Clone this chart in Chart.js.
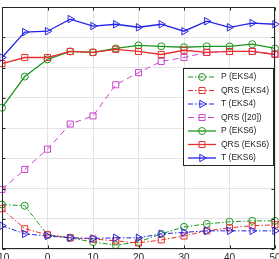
<!DOCTYPE html>
<html><head><meta charset="utf-8">
<script src="https://cdn.jsdelivr.net/npm/chart.js@4"></script>
<style>
html,body{margin:0;padding:0;overflow:hidden;width:279px;height:259px;background:#fff}
#wrap{position:absolute;left:-20px;top:0;width:310px;height:277px}
</style></head><body>
<div id="wrap"><canvas id="c"></canvas></div>
<script>
const xValues = [-10,-5,0,5,10,15,20,25,30,35,40,45,50];
const xTicks = [-10,0,10,20,30,40,50];
const seriesNames = ['P (EKS4)','QRS (EKS4)','T (EKS4)','QRS ([20])','P (EKS6)','QRS (EKS6)','T (EKS6)'];
const pEKS4   = [1.47,1.43,0.47,0.37,0.23,0.13,0.23,0.50,0.73,0.83,0.90,0.93,0.93];
const qrsEKS4 = [1.33,0.67,0.47,0.37,0.33,0.27,0.20,0.30,0.43,0.60,0.70,0.77,0.80];
const tEKS4   = [0.77,0.50,0.43,0.37,0.35,0.37,0.37,0.50,0.55,0.60,0.60,0.60,0.60];
const qrsRef20= [1.97,2.63,3.30,4.13,4.40,5.43,5.83,6.20,6.33,6.50,6.53,6.53,6.45];
const pEKS6   = [4.67,5.70,6.27,6.53,6.50,6.63,6.73,6.70,6.67,6.70,6.70,6.77,6.63];
const qrsEKS6 = [6.13,6.33,6.33,6.53,6.50,6.60,6.53,6.43,6.57,6.50,6.53,6.53,6.43];
const tEKS6   = [6.33,7.17,7.20,7.60,7.37,7.43,7.33,7.43,7.20,7.53,7.33,7.47,7.43];

const GREEN='rgb(30,150,30)', RED='rgb(232,48,48)', BLUE='rgb(36,36,232)', MAG='rgb(204,68,204)';
const DASHDOT=[5,2,1.5,2], DASH=[6,4];
const styles = [
  {c:GREEN, dash:DASHDOT, m:'circle', w:1},
  {c:RED, dash:DASHDOT, m:'rect', w:1},
  {c:BLUE, dash:DASHDOT, m:'tri', w:1},
  {c:MAG, dash:DASH, m:'rect', w:1},
  {c:GREEN, dash:[], m:'circle', w:1.3},
  {c:RED, dash:[], m:'rect', w:1.3},
  {c:BLUE, dash:[], m:'tri', w:1.3},
];
const allSeries=[pEKS4,qrsEKS4,tEKS4,qrsRef20,pEKS6,qrsEKS6,tEKS6];

const datasets = allSeries.map((arr,i)=>{
  const s=styles[i];
  return {
    label: seriesNames[i],
    data: xValues.map((x,j)=>({x:x,y:arr[j]})),
    borderColor:s.c, backgroundColor:'rgba(0,0,0,0)',
    borderWidth:s.w, borderDash:s.dash,
    pointStyle: s.m==='tri'?'triangle':s.m,
    rotation: s.m==='tri'?90:0,
    pointRadius: s.m==='circle'?3.5:4.3,
    pointBorderColor:s.c, pointBackgroundColor:'rgba(0,0,0,0)',
    pointBorderWidth:1, tension:0, clip:false,
    order: 10-i
  };
});

function drawMarker(ctx,m,x,y,color){
  ctx.save();ctx.setLineDash([]);ctx.strokeStyle=color;ctx.lineWidth=1;ctx.beginPath();
  if(m==='circle'){ctx.arc(x,y,3.5,0,Math.PI*2);}
  else if(m==='rect'){ctx.rect(x-3,y-3,6,6);}
  else {ctx.moveTo(x+4.3,y);ctx.lineTo(x-2.2,y-3.7);ctx.lineTo(x-2.2,y+3.7);ctx.closePath();}
  ctx.stroke();ctx.restore();
}

const boxPlugin={id:'box',afterDatasetsDraw(chart){
  const ctx=chart.ctx,a=chart.chartArea,xs=chart.scales.x,ys=chart.scales.y;
  ctx.save();ctx.strokeStyle='#262626';ctx.lineWidth=1;ctx.setLineDash([]);
  const L=Math.round(a.left)+0.5,R=Math.round(a.right)-0.5,T=Math.round(a.top)+0.5,B=Math.round(a.bottom)-0.5;
  ctx.strokeRect(L,T,R-L,B-T);
  ctx.beginPath();
  xTicks.forEach(v=>{const p=Math.round(xs.getPixelForValue(v))+0.5;ctx.moveTo(p,B);ctx.lineTo(p,B-3);ctx.moveTo(p,T);ctx.lineTo(p,T+3);});
  ys.ticks.forEach(t=>{const p=Math.round(ys.getPixelForValue(t.value))+0.5;ctx.moveTo(L,p);ctx.lineTo(L+3,p);ctx.moveTo(R,p);ctx.lineTo(R-3,p);});
  ctx.stroke();
  // legend
  const ox=a.left-2;
  const bx=ox+183,by=68,bw=90,bh=97;
  ctx.fillStyle='#fff';ctx.fillRect(bx,by,bw,bh);
  ctx.strokeRect(bx+0.5,by+0.5,bw,bh);
  const ysL=[77,90.5,104,117.5,131,144.5,158];
  ctx.font='8.5px "Liberation Sans", Arial, sans-serif';ctx.textBaseline='middle';ctx.textAlign='left';
  seriesNames.forEach((n,i)=>{
    const s=styles[i],y=ysL[i];
    ctx.strokeStyle=s.c;ctx.lineWidth=s.w;ctx.setLineDash(s.dash);
    ctx.beginPath();ctx.moveTo(ox+188,y);ctx.lineTo(ox+216,y);ctx.stroke();
    drawMarker(ctx,s.m,ox+202,y,s.c);
    ctx.fillStyle='#262626';ctx.fillText(n,ox+221,y);
  });
  ctx.restore();
}};

new Chart(document.getElementById('c'),{
  type:'line',
  data:{datasets:datasets},
  options:{
    responsive:true,maintainAspectRatio:false,animation:false,devicePixelRatio:1,
    layout:{padding:{left:22,right:15,top:7,bottom:10}},
    plugins:{legend:{display:false},tooltip:{enabled:false}},
    scales:{
      x:{type:'linear',min:-10,max:50,
        afterBuildTicks(s){s.ticks=xTicks.map(v=>({value:v}));},
        grid:{color:'#e3e3e3',drawTicks:false},border:{display:false},
        ticks:{font:{size:10,family:'"Liberation Sans", Arial, sans-serif'},color:'#262626',padding:3,maxRotation:0,autoSkip:false}},
      y:{type:'linear',min:0,max:8,
        ticks:{display:false,stepSize:1},
        grid:{color:'#e3e3e3',drawTicks:false},border:{display:false}}
    }
  },
  plugins:[boxPlugin]
});
</script>
</body></html>
